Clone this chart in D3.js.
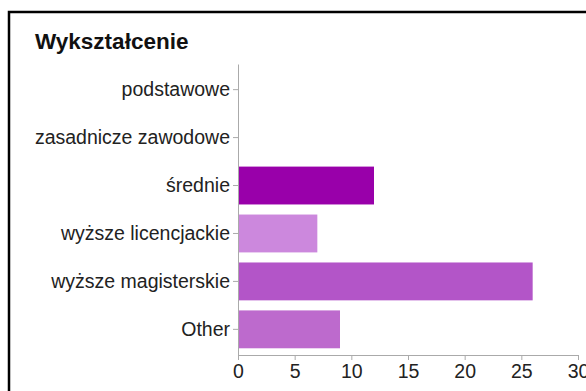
<!DOCTYPE html>
<html>
<head>
<meta charset="utf-8">
<script src="https://cdn.jsdelivr.net/npm/d3@7"></script>
<style>
  body { margin: 0; background: #fff; }
  svg { display: block; }
</style>
</head>
<body>
<script>
// Wykształcenie - poziomy wykres słupkowy
var w = 586;
var h = 391;

var categories = ["podstawowe", "zasadnicze zawodowe", "średnie", "wyższe licencjackie", "wyższe magisterskie", "Other"];
var values = [0, 0, 12, 7, 26, 9];
var colors = ["#9900aa", "#9900aa", "#9900aa", "#cc88dd", "#b355c8", "#bd6acd"];
var xTicks = [0, 5, 10, 15, 20, 25, 30];

var svg = d3.select("body").append("svg")
            .attr("width", w)
            .attr("height", h);

// ramka
svg.append("rect")
  .attr("x", 9)
  .attr("y", 12)
  .attr("width", 620)
  .attr("height", 420)
  .attr("fill", "none")
  .attr("stroke", "#000")
  .attr("stroke-width", 2.5);

svg.append("text")
  .text("Wykształcenie")
  .attr("x", 35)
  .attr("y", 49)
  .attr("font-family", "Liberation Sans, Arial, sans-serif")
  .attr("font-weight", "bold")
  .attr("font-size", 22.5)
  .attr("fill", "#111");

var x = d3.scaleLinear().domain([0, 30]).range([238, 578]);
var y = d3.scaleBand().domain(categories).range([64, 355])
          .paddingInner(0.21).paddingOuter(0.14);

svg.selectAll("rect.bar")
  .data(values)
  .enter()
  .append("rect")
  .attr("class", "bar")
  .attr("x", x(0))
  .attr("y", function(d, i) { return y(categories[i]); })
  .attr("width", function(d) { return x(d) - x(0); })
  .attr("height", y.bandwidth())
  .attr("fill", function(d, i) { return colors[i]; });

var yAxis = svg.append("g")
  .attr("transform", "translate(" + x(0) + ",0)")
  .call(d3.axisLeft(y).tickSize(5).tickSizeOuter(0).tickPadding(3));

var xAxis = svg.append("g")
  .attr("transform", "translate(0,355)")
  .call(d3.axisBottom(x).tickValues(xTicks).tickSize(5).tickSizeOuter(0).tickPadding(4));

[yAxis, xAxis].forEach(function(g) {
  g.selectAll("path").attr("stroke", "#aaa");
  g.selectAll("line").attr("stroke", "#aaa");
  g.selectAll("text")
    .attr("font-family", "Liberation Sans, Arial, sans-serif")
    .attr("font-size", 19.5)
    .attr("fill", "#222");
});
</script>
</body>
</html>
